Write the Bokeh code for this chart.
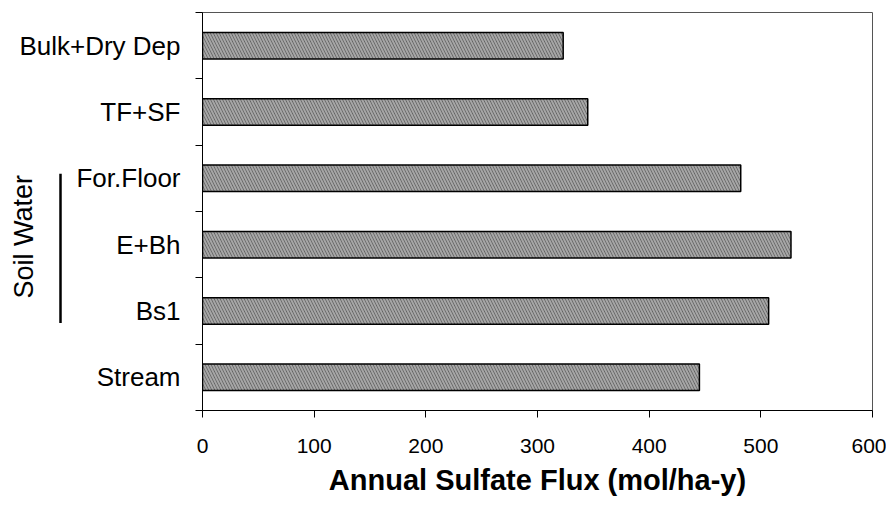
from bokeh.plotting import figure
from bokeh.layouts import row
from bokeh.models import Range1d, FixedTicker, ColumnDataSource
from bokeh.core.properties import value
from bokeh.embed import file_html
from bokeh.resources import INLINE

# ---- data ----
categories = ["Stream", "Bs1", "E+Bh", "For.Floor", "TF+SF", "Bulk+Dry Dep"]
flux = [445, 507, 527, 482, 345, 323]
x_ticks = [0, 100, 200, 300, 400, 500, 600]
x_title = "Annual Sulfate Flux (mol/ha-y)"
group_label = "Soil Water"
group_members = ["For.Floor", "Bs1"]   # top and bottom of the bracketed group

FONT = "Liberation Sans"
n = len(categories)
ypos = [i + 0.5 for i in range(n)]
yr = Range1d(0, n)

TOP, BOTTOM, H = 12, 86, 498
LEFT_W = 190

# ---------- left panel: category labels, group label and bracket ----------
left = figure(width=LEFT_W, height=H, x_range=Range1d(0, LEFT_W), y_range=yr,
              output_backend="svg", toolbar_location=None,
              x_axis_location=None, y_axis_location=None,
              min_border_left=0, min_border_right=0,
              min_border_top=TOP, min_border_bottom=BOTTOM)
left.outline_line_color = None
left.xgrid.visible = False
left.ygrid.visible = False
left.background_fill_color = "white"
left.border_fill_color = "white"

lab_src = ColumnDataSource(dict(x=[180] * n, y=ypos, text=categories))
left.text(x="x", y="y", text="text", source=lab_src,
          text_font=value(FONT), text_font_size="26px", text_color="black",
          text_align="right", text_baseline="middle")

i_top = categories.index(group_members[0])
i_bot = categories.index(group_members[1])
left.segment(x0=[60], y0=[i_top + 0.57], x1=[60], y1=[i_bot + 0.32],
             line_color="black", line_width=2.5)
left.text(x=[23], y=[(i_top + i_bot) / 2 + 0.62], text=[group_label], angle=1.5708,
          text_font=value(FONT), text_font_size="27px", text_color="black",
          text_align="center", text_baseline="middle")

# ---------- main plot ----------
MAIN_W = 886 - LEFT_W
p = figure(width=MAIN_W, height=H,
           x_range=Range1d(0, 600), y_range=yr,
           output_backend="svg", toolbar_location=None,
           min_border_left=12, min_border_right=MAIN_W - 12 - 670,
           min_border_top=TOP, min_border_bottom=BOTTOM,
           x_axis_label=x_title)
p.background_fill_color = "white"
p.border_fill_color = "white"
p.outline_line_color = "#555555"
p.outline_line_width = 1
p.xgrid.visible = False
p.ygrid.visible = False

src = ColumnDataSource(dict(y=ypos, right=flux, cat=categories))
p.hbar(y="y", right="right", left=0, height=0.4, source=src,
       fill_color="#5a5a5a", line_color="black", line_width=1.5,
       hatch_pattern="\\", hatch_color="#a6a6a6", hatch_scale=6, hatch_weight=2)

# x axis
xa = p.xaxis[0]
xa.ticker = FixedTicker(ticks=x_ticks)
xa.major_tick_out = 7
xa.major_tick_in = 0
xa.minor_tick_out = 0
xa.minor_tick_in = 0
xa.axis_line_color = "black"
xa.major_tick_line_color = "black"
xa.major_label_text_font = FONT
xa.major_label_text_font_size = "21px"
xa.major_label_text_color = "black"
xa.major_label_standoff = 21
xa.axis_label_text_font = FONT
xa.axis_label_text_font_style = "bold"
xa.axis_label_text_font_size = "29px"
xa.axis_label_text_color = "black"
xa.axis_label_standoff = 8

# y axis: only the ticks at category boundaries (labels are in the left panel)
ya = p.yaxis[0]
ya.ticker = FixedTicker(ticks=[], minor_ticks=list(range(n + 1)))
ya.major_label_standoff = 0
ya.major_tick_out = 0
ya.major_tick_in = 0
ya.minor_tick_out = 7
ya.minor_tick_in = 0
ya.minor_tick_line_color = "black"
ya.axis_line_color = "black"

layout = row(left, p, spacing=0)
open("out.html", "w").write(file_html(layout, INLINE))
